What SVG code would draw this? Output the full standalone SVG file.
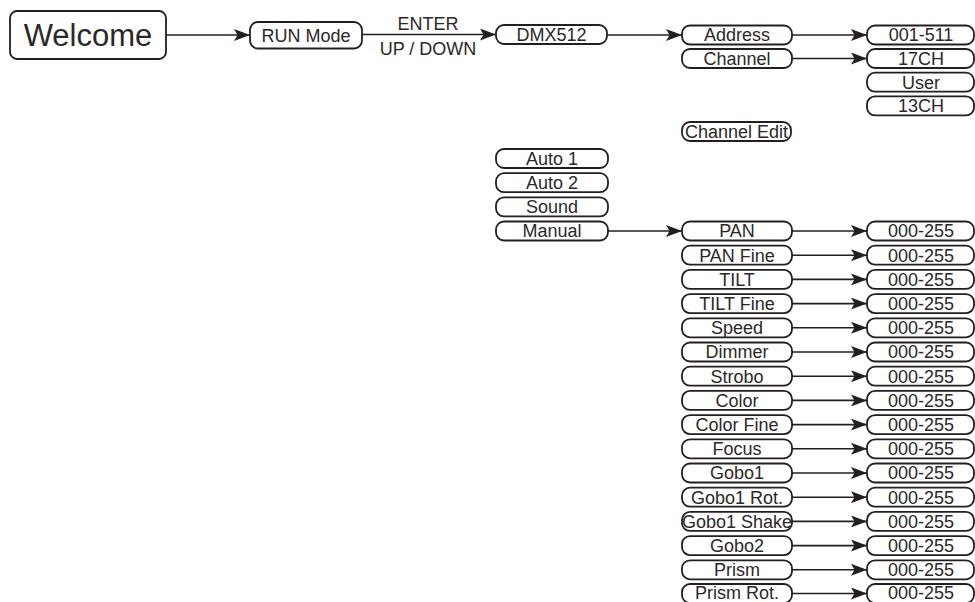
<svg xmlns="http://www.w3.org/2000/svg" width="975" height="602" viewBox="0 0 975 602">
<style>
.b{fill:#fff;stroke:#231f20;stroke-width:1.8}
.t{font-family:"Liberation Sans",Arial,sans-serif;font-size:18px;fill:#2b2829;text-anchor:middle}
.c{stroke:#231f20;stroke-width:1.6;fill:none;marker-end:url(#ah)}
</style>
<defs>
<marker id="ah" markerUnits="userSpaceOnUse" markerWidth="16" markerHeight="12" viewBox="0 0 16 12" refX="16" refY="6" orient="auto">
<path d="M0,0 L16,6 L0,12 L3.5,6 z" fill="#231f20"/>
</marker>
</defs>
<rect width="975" height="602" fill="#fff"/>
<g id="connectors">
<line class="c" x1="166" y1="35" x2="250" y2="35"/>
<line class="c" x1="362" y1="34.5" x2="496" y2="34.5"/>
<line class="c" x1="607" y1="35" x2="682" y2="35"/>
<line class="c" x1="792" y1="35" x2="867" y2="35"/>
<line class="c" x1="792" y1="58.5" x2="867" y2="58.5"/>
<line class="c" x1="608" y1="231" x2="682" y2="231"/>
<line class="c" x1="792" y1="231" x2="867" y2="231"/>
<line class="c" x1="792" y1="255.2" x2="867" y2="255.2"/>
<line class="c" x1="792" y1="279.4" x2="867" y2="279.4"/>
<line class="c" x1="792" y1="303.6" x2="867" y2="303.6"/>
<line class="c" x1="792" y1="327.8" x2="867" y2="327.8"/>
<line class="c" x1="792" y1="352" x2="867" y2="352"/>
<line class="c" x1="792" y1="376.2" x2="867" y2="376.2"/>
<line class="c" x1="792" y1="400.4" x2="867" y2="400.4"/>
<line class="c" x1="792" y1="424.6" x2="867" y2="424.6"/>
<line class="c" x1="792" y1="448.8" x2="867" y2="448.8"/>
<line class="c" x1="792" y1="473" x2="867" y2="473"/>
<line class="c" x1="792" y1="497.2" x2="867" y2="497.2"/>
<line class="c" x1="792" y1="521.4" x2="867" y2="521.4"/>
<line class="c" x1="792" y1="545.6" x2="867" y2="545.6"/>
<line class="c" x1="792" y1="569.8" x2="867" y2="569.8"/>
<line class="c" x1="792" y1="593.5" x2="867" y2="593.5"/>
<text class="t" x="428" y="30">ENTER</text>
<text class="t" x="428" y="55">UP / DOWN</text>
</g>
<g id="n-welcome"><rect class="b" x="10" y="11" width="156" height="48" rx="7"/><text class="t" x="88" y="46" style="font-size:31px">Welcome</text></g>
<g id="n-runmode"><rect class="b" x="250" y="22" width="112" height="26.5" rx="8"/><text class="t" x="306" y="41.5">RUN Mode</text></g>
<g id="n-dmx512" transform="translate(496,34.5)"><rect class="b" x="0" y="-9.5" width="111" height="19" rx="8"/><text class="t" x="55.5" y="6.3">DMX512</text></g>
<g id="n-address" transform="translate(682,35)"><rect class="b" x="0" y="-9.5" width="110" height="19" rx="8"/><text class="t" x="55" y="6.3">Address</text></g>
<g id="n-channel" transform="translate(682,58.5)"><rect class="b" x="0" y="-9.5" width="110" height="19" rx="8"/><text class="t" x="55" y="6.3">Channel</text></g>
<g id="n-channeledit" transform="translate(682,131.5)"><rect class="b" x="0" y="-9.5" width="109" height="19" rx="8"/><text class="t" x="54.5" y="6.3">Channel Edit</text></g>
<g id="n-001-511" transform="translate(867,35)"><rect class="b" x="0" y="-9.5" width="107" height="19" rx="8"/><text class="t" x="54" y="6.3">001-511</text></g>
<g id="n-17ch" transform="translate(867,58.5)"><rect class="b" x="0" y="-9.5" width="107" height="19" rx="8"/><text class="t" x="54" y="6.3">17CH</text></g>
<g id="n-user" transform="translate(867,82.2)"><rect class="b" x="0" y="-9.5" width="107" height="19" rx="8"/><text class="t" x="54" y="6.3">User</text></g>
<g id="n-13ch" transform="translate(867,105.9)"><rect class="b" x="0" y="-9.5" width="107" height="19" rx="8"/><text class="t" x="54" y="6.3">13CH</text></g>
<g id="n-auto1" transform="translate(496,158.5)"><rect class="b" x="0" y="-9.5" width="112" height="19" rx="8"/><text class="t" x="56" y="6.3">Auto 1</text></g>
<g id="n-auto2" transform="translate(496,182.7)"><rect class="b" x="0" y="-9.5" width="112" height="19" rx="8"/><text class="t" x="56" y="6.3">Auto 2</text></g>
<g id="n-sound" transform="translate(496,206.9)"><rect class="b" x="0" y="-9.5" width="112" height="19" rx="8"/><text class="t" x="56" y="6.3">Sound</text></g>
<g id="n-manual" transform="translate(496,231)"><rect class="b" x="0" y="-9.5" width="112" height="19" rx="8"/><text class="t" x="56" y="6.3">Manual</text></g>
<g id="n-pan" transform="translate(682,231)"><rect class="b" x="0" y="-9.5" width="110" height="19" rx="8"/><text class="t" x="55" y="6.3">PAN</text></g>
<g id="n-panfine" transform="translate(682,255.2)"><rect class="b" x="0" y="-9.5" width="110" height="19" rx="8"/><text class="t" x="55" y="6.3">PAN Fine</text></g>
<g id="n-tilt" transform="translate(682,279.4)"><rect class="b" x="0" y="-9.5" width="110" height="19" rx="8"/><text class="t" x="55" y="6.3">TILT</text></g>
<g id="n-tiltfine" transform="translate(682,303.6)"><rect class="b" x="0" y="-9.5" width="110" height="19" rx="8"/><text class="t" x="55" y="6.3">TILT Fine</text></g>
<g id="n-speed" transform="translate(682,327.8)"><rect class="b" x="0" y="-9.5" width="110" height="19" rx="8"/><text class="t" x="55" y="6.3">Speed</text></g>
<g id="n-dimmer" transform="translate(682,352)"><rect class="b" x="0" y="-9.5" width="110" height="19" rx="8"/><text class="t" x="55" y="6.3">Dimmer</text></g>
<g id="n-strobo" transform="translate(682,376.2)"><rect class="b" x="0" y="-9.5" width="110" height="19" rx="8"/><text class="t" x="55" y="6.3">Strobo</text></g>
<g id="n-color" transform="translate(682,400.4)"><rect class="b" x="0" y="-9.5" width="110" height="19" rx="8"/><text class="t" x="55" y="6.3">Color</text></g>
<g id="n-colorfine" transform="translate(682,424.6)"><rect class="b" x="0" y="-9.5" width="110" height="19" rx="8"/><text class="t" x="55" y="6.3">Color Fine</text></g>
<g id="n-focus" transform="translate(682,448.8)"><rect class="b" x="0" y="-9.5" width="110" height="19" rx="8"/><text class="t" x="55" y="6.3">Focus</text></g>
<g id="n-gobo1" transform="translate(682,473)"><rect class="b" x="0" y="-9.5" width="110" height="19" rx="8"/><text class="t" x="55" y="6.3">Gobo1</text></g>
<g id="n-gobo1rot" transform="translate(682,497.2)"><rect class="b" x="0" y="-9.5" width="110" height="19" rx="8"/><text class="t" x="55" y="6.3">Gobo1 Rot.</text></g>
<g id="n-gobo1shake" transform="translate(682,521.4)"><rect class="b" x="0" y="-9.5" width="110" height="19" rx="8"/><text class="t" x="55" y="6.3">Gobo1 Shake</text></g>
<g id="n-gobo2" transform="translate(682,545.6)"><rect class="b" x="0" y="-9.5" width="110" height="19" rx="8"/><text class="t" x="55" y="6.3">Gobo2</text></g>
<g id="n-prism" transform="translate(682,569.8)"><rect class="b" x="0" y="-9.5" width="110" height="19" rx="8"/><text class="t" x="55" y="6.3">Prism</text></g>
<g id="n-prismrot" transform="translate(682,593.5)"><rect class="b" x="0" y="-9.5" width="110" height="19" rx="8"/><text class="t" x="55" y="5.5">Prism Rot.</text></g>
<g id="v-pan" transform="translate(867,231)"><rect class="b" x="0" y="-9.5" width="107" height="19" rx="8"/><text class="t" x="54" y="6.3">000-255</text></g>
<g id="v-panfine" transform="translate(867,255.2)"><rect class="b" x="0" y="-9.5" width="107" height="19" rx="8"/><text class="t" x="54" y="6.3">000-255</text></g>
<g id="v-tilt" transform="translate(867,279.4)"><rect class="b" x="0" y="-9.5" width="107" height="19" rx="8"/><text class="t" x="54" y="6.3">000-255</text></g>
<g id="v-tiltfine" transform="translate(867,303.6)"><rect class="b" x="0" y="-9.5" width="107" height="19" rx="8"/><text class="t" x="54" y="6.3">000-255</text></g>
<g id="v-speed" transform="translate(867,327.8)"><rect class="b" x="0" y="-9.5" width="107" height="19" rx="8"/><text class="t" x="54" y="6.3">000-255</text></g>
<g id="v-dimmer" transform="translate(867,352)"><rect class="b" x="0" y="-9.5" width="107" height="19" rx="8"/><text class="t" x="54" y="6.3">000-255</text></g>
<g id="v-strobo" transform="translate(867,376.2)"><rect class="b" x="0" y="-9.5" width="107" height="19" rx="8"/><text class="t" x="54" y="6.3">000-255</text></g>
<g id="v-color" transform="translate(867,400.4)"><rect class="b" x="0" y="-9.5" width="107" height="19" rx="8"/><text class="t" x="54" y="6.3">000-255</text></g>
<g id="v-colorfine" transform="translate(867,424.6)"><rect class="b" x="0" y="-9.5" width="107" height="19" rx="8"/><text class="t" x="54" y="6.3">000-255</text></g>
<g id="v-focus" transform="translate(867,448.8)"><rect class="b" x="0" y="-9.5" width="107" height="19" rx="8"/><text class="t" x="54" y="6.3">000-255</text></g>
<g id="v-gobo1" transform="translate(867,473)"><rect class="b" x="0" y="-9.5" width="107" height="19" rx="8"/><text class="t" x="54" y="6.3">000-255</text></g>
<g id="v-gobo1rot" transform="translate(867,497.2)"><rect class="b" x="0" y="-9.5" width="107" height="19" rx="8"/><text class="t" x="54" y="6.3">000-255</text></g>
<g id="v-gobo1shake" transform="translate(867,521.4)"><rect class="b" x="0" y="-9.5" width="107" height="19" rx="8"/><text class="t" x="54" y="6.3">000-255</text></g>
<g id="v-gobo2" transform="translate(867,545.6)"><rect class="b" x="0" y="-9.5" width="107" height="19" rx="8"/><text class="t" x="54" y="6.3">000-255</text></g>
<g id="v-prism" transform="translate(867,569.8)"><rect class="b" x="0" y="-9.5" width="107" height="19" rx="8"/><text class="t" x="54" y="6.3">000-255</text></g>
<g id="v-prismrot" transform="translate(867,593.5)"><rect class="b" x="0" y="-9.5" width="107" height="19" rx="8"/><text class="t" x="54" y="5.5">000-255</text></g>
</svg>
